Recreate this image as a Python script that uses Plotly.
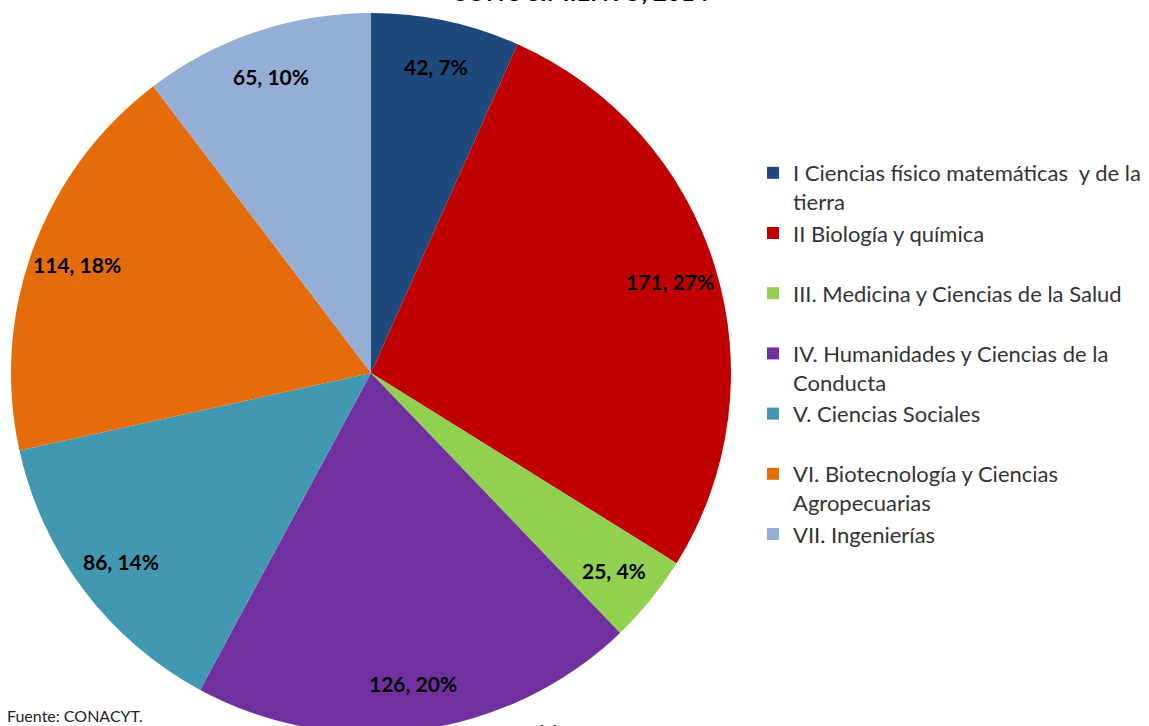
import math
import plotly.graph_objects as go

# data
areas = [
    "I Ciencias físico matemáticas  y de la<br>tierra",
    "II Biología y química<br> ",
    "III. Medicina y Ciencias de la Salud<br> ",
    "IV. Humanidades y Ciencias de la<br>Conducta",
    "V. Ciencias Sociales<br> ",
    "VI. Biotecnología y Ciencias<br>Agropecuarias",
    "VII. Ingenierías",
]
valores = [42, 171, 25, 126, 86, 114, 65]
colores = ["#1F497D", "#C00000", "#92D050", "#7030A0", "#4198B0", "#E46C0A", "#95AED5"]

W, H = 1149, 746
CX, CY, R = 371, 373, 360  # pie centre / radius in px
LABEL_R = 0.87

fig = go.Figure()
fig.add_trace(go.Pie(
    labels=areas,
    values=valores,
    sort=False,
    direction="clockwise",
    rotation=0,
    marker=dict(colors=colores, line=dict(width=0)),
    textinfo="none",
    hoverinfo="label+value+percent",
    domain=dict(x=[(CX - R) / W, (CX + R) / W], y=[(H - CY - R) / H, (H - CY + R) / H]),
))

# data labels "valor, pct%" placed on slice mid-angles
total = sum(valores)
acum = 0
for v in valores:
    ang = (acum + v / 2) / total * 2 * math.pi
    acum += v
    px = CX + LABEL_R * R * math.sin(ang)
    py = CY - LABEL_R * R * math.cos(ang)
    fig.add_annotation(x=px / W, y=1 - py / H, xref="paper", yref="paper",
                       xanchor="center", yanchor="middle",
                       text=f"<b>{v}, {round(v / total * 100)}%</b>", showarrow=False,
                       font=dict(family="Lato", size=21, color="black"))

# title (cut off at top in the original)
fig.add_annotation(x=580 / W, y=1 - 8 / H, xref="paper", yref="paper",
                   xanchor="center", yanchor="bottom",
                   text="<b>CONOCIMIENTO, 2014</b>", showarrow=False,
                   font=dict(family="Lato", size=24, color="black"))
fig.add_annotation(x=5 / W, y=1 - 715 / H, xref="paper", yref="paper",
                   xanchor="left", yanchor="middle",
                   text="Fuente: CONACYT.", showarrow=False,
                   font=dict(family="Lato", size=16, color="#222222"))
fig.add_annotation(x=548 / W, y=1 - 716 / H, xref="paper", yref="paper",
                   xanchor="center", yanchor="top",
                   text="11", showarrow=False,
                   font=dict(family="Lato", size=22, color="#222222"))

fig.update_layout(
    width=W, height=H,
    margin=dict(l=0, r=0, t=0, b=0),
    paper_bgcolor="white",
    plot_bgcolor="white",
    legend=dict(x=753 / W, y=1 - 152 / H, xanchor="left", yanchor="top",
                valign="top", font=dict(family="Lato", size=22, color="#333333"),
                bgcolor="rgba(0,0,0,0)"),
)

fig.write_html("out.html", config={"displayModeBar": False},
               post_script="document.body.style.margin='0';")
